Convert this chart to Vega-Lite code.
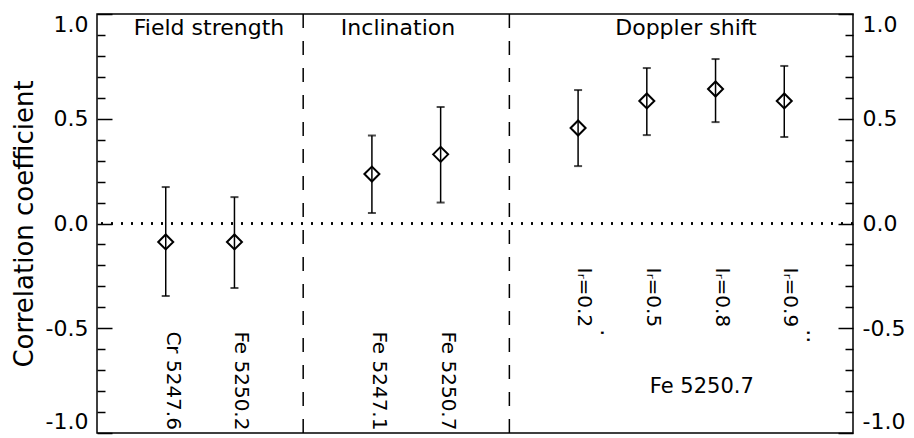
{
  "$schema": "https://vega.github.io/schema/vega-lite/v6.json",
  "width": 756,
  "height": 419,
  "autosize": {"type": "none"},
  "padding": {"left": 97, "top": 14, "right": 61, "bottom": 5},
  "background": "white",
  "config": {
    "view": {"stroke": "black", "strokeWidth": 1.5},
    "font": "DejaVu Sans",
    "text": {"font": "DejaVu Sans", "color": "black"}
  },
  "datasets": {
    "points": [
      {"group": "Field strength", "label": "Cr 5247.6", "x": 1, "r": -0.088, "lo": -0.346, "hi": 0.174, "note": ""},
      {"group": "Field strength", "label": "Fe 5250.2", "x": 2, "r": -0.088, "lo": -0.308, "hi": 0.126, "note": ""},
      {"group": "Inclination", "label": "Fe 5247.1", "x": 4, "r": 0.236, "lo": 0.05, "hi": 0.42, "note": ""},
      {"group": "Inclination", "label": "Fe 5250.7", "x": 5, "r": 0.33, "lo": 0.1, "hi": 0.556, "note": ""},
      {"group": "Doppler shift", "label": "Iᵣ=0.2", "x": 7, "r": 0.456, "lo": 0.274, "hi": 0.637, "note": "."},
      {"group": "Doppler shift", "label": "Iᵣ=0.5", "x": 8, "r": 0.585, "lo": 0.422, "hi": 0.742, "note": ""},
      {"group": "Doppler shift", "label": "Iᵣ=0.8", "x": 9, "r": 0.642, "lo": 0.484, "hi": 0.785, "note": ""},
      {"group": "Doppler shift", "label": "Iᵣ=0.9", "x": 10, "r": 0.585, "lo": 0.413, "hi": 0.752, "note": ".."}
    ],
    "separators": [{"x": 3}, {"x": 6}],
    "sections": [
      {"section": "Field strength", "x": 1.63},
      {"section": "Inclination", "x": 4.38},
      {"section": "Doppler shift", "x": 8.57}
    ],
    "annotations": [{"text": "Fe 5250.7", "x": 8.8, "y": -0.78}]
  },
  "resolve": {"axis": {"y": "independent", "x": "independent"}},
  "layer": [
    {
      "data": {"name": "points"},
      "mark": {"type": "rule", "strokeDash": [2, 8], "strokeWidth": 1.5, "color": "black"},
      "encoding": {
        "y": {
          "datum": 0, "type": "quantitative",
          "scale": {"domain": [-1, 1], "nice": false, "zero": false},
          "axis": {
            "orient": "left", "values": [-1, -0.5, 0, 0.5, 1],
            "labelExpr": "(datum.value < 0 ? '-' : '') + format(abs(datum.value), '.1f')",
            "tickSize": -15, "tickWidth": 1.5, "tickColor": "black",
            "labelPadding": 24, "labelFlush": true, "labelFontSize": 22, "labelColor": "black", "labelFont": "DejaVu Sans",
            "domain": false, "grid": false,
            "title": "Correlation coefficient", "titleFontSize": 26, "titleFontWeight": "normal",
            "titleColor": "black", "titleFont": "DejaVu Sans", "titlePadding": 8
          }
        }
      }
    },
    {
      "data": {"name": "separators"},
      "mark": {"type": "rule", "strokeDash": [14, 13], "strokeWidth": 1.5, "color": "black"},
      "encoding": {
        "x": {"field": "x", "type": "quantitative", "scale": {"domain": [0, 11], "nice": false, "zero": false}, "axis": null}
      }
    },
    {
      "data": {"name": "points"},
      "mark": {"type": "rule", "strokeWidth": 1.5, "color": "black"},
      "encoding": {
        "x": {"field": "x", "type": "quantitative", "scale": {"domain": [0, 11], "nice": false, "zero": false}, "axis": null},
        "y": {
          "field": "lo", "type": "quantitative",
          "scale": {"domain": [-1, 1], "nice": false, "zero": false},
          "axis": {
            "orient": "left", "values": [-0.9, -0.8, -0.7, -0.6, -0.4, -0.3, -0.2, -0.1, 0.1, 0.2, 0.3, 0.4, 0.6, 0.7, 0.8, 0.9],
            "tickSize": -8, "tickWidth": 1.5, "tickColor": "black", "labels": false,
            "domain": false, "grid": false, "title": null
          }
        },
        "y2": {"field": "hi"}
      }
    },
    {
      "data": {"name": "points"},
      "mark": {"type": "tick", "orient": "horizontal", "size": 8, "thickness": 2, "color": "black"},
      "encoding": {
        "x": {"field": "x", "type": "quantitative", "scale": {"domain": [0, 11], "nice": false, "zero": false}, "axis": null},
        "y": {
          "field": "lo", "type": "quantitative",
          "scale": {"domain": [-1, 1], "nice": false, "zero": false},
          "axis": {
            "orient": "right", "values": [-1, -0.5, 0, 0.5, 1],
            "labelExpr": "(datum.value < 0 ? '-' : '') + format(abs(datum.value), '.1f')",
            "tickSize": -15, "tickWidth": 1.5, "tickColor": "black",
            "labelPadding": 24, "labelFlush": true, "labelFontSize": 22, "labelColor": "black", "labelFont": "DejaVu Sans",
            "domain": false, "grid": false, "title": null
          }
        }
      }
    },
    {
      "data": {"name": "points"},
      "mark": {"type": "tick", "orient": "horizontal", "size": 8, "thickness": 2, "color": "black"},
      "encoding": {
        "x": {"field": "x", "type": "quantitative", "scale": {"domain": [0, 11], "nice": false, "zero": false}, "axis": null},
        "y": {
          "field": "hi", "type": "quantitative",
          "scale": {"domain": [-1, 1], "nice": false, "zero": false},
          "axis": {
            "orient": "right", "values": [-0.9, -0.8, -0.7, -0.6, -0.4, -0.3, -0.2, -0.1, 0.1, 0.2, 0.3, 0.4, 0.6, 0.7, 0.8, 0.9],
            "tickSize": -8, "tickWidth": 1.5, "tickColor": "black", "labels": false,
            "domain": false, "grid": false, "title": null
          }
        }
      }
    },
    {
      "data": {"name": "points"},
      "mark": {"type": "point", "shape": "diamond", "filled": false, "size": 225, "strokeWidth": 2, "color": "black", "opacity": 1},
      "encoding": {
        "x": {"field": "x", "type": "quantitative", "scale": {"domain": [0, 11], "nice": false, "zero": false}, "axis": null},
        "y": {"field": "r", "type": "quantitative", "scale": {"domain": [-1, 1], "nice": false, "zero": false}, "axis": null}
      }
    },
    {
      "data": {"name": "points"},
      "transform": [{"filter": "datum.group !== 'Doppler shift'"}],
      "mark": {"type": "text", "angle": 90, "align": "left", "baseline": "alphabetic", "fontSize": 20, "dy": -1},
      "encoding": {
        "x": {"field": "x", "type": "quantitative", "scale": {"domain": [0, 11], "nice": false, "zero": false}, "axis": null},
        "y": {"datum": -0.515, "type": "quantitative", "scale": {"domain": [-1, 1], "nice": false, "zero": false}, "axis": null},
        "text": {"field": "label"}
      }
    },
    {
      "data": {"name": "points"},
      "transform": [{"filter": "datum.group === 'Doppler shift'"}],
      "mark": {"type": "text", "angle": 90, "align": "left", "baseline": "alphabetic", "fontSize": 20, "dy": 0},
      "encoding": {
        "x": {"field": "x", "type": "quantitative", "scale": {"domain": [0, 11], "nice": false, "zero": false}, "axis": null},
        "y": {"datum": -0.21, "type": "quantitative", "scale": {"domain": [-1, 1], "nice": false, "zero": false}, "axis": null},
        "text": {"field": "label"}
      }
    },
    {
      "data": {"name": "points"},
      "transform": [{"filter": "datum.note !== ''"}],
      "mark": {"type": "text", "angle": 90, "align": "left", "baseline": "alphabetic", "fontSize": 22, "dy": -23},
      "encoding": {
        "x": {"field": "x", "type": "quantitative", "scale": {"domain": [0, 11], "nice": false, "zero": false}, "axis": null},
        "y": {"datum": -0.505, "type": "quantitative", "scale": {"domain": [-1, 1], "nice": false, "zero": false}, "axis": null},
        "text": {"field": "note"}
      }
    },
    {
      "data": {"name": "sections"},
      "mark": {"type": "text", "align": "center", "baseline": "middle", "fontSize": 22},
      "encoding": {
        "x": {"field": "x", "type": "quantitative", "scale": {"domain": [0, 11], "nice": false, "zero": false}, "axis": null},
        "y": {"datum": 0.933, "type": "quantitative", "scale": {"domain": [-1, 1], "nice": false, "zero": false}, "axis": null},
        "text": {"field": "section"}
      }
    },
    {
      "data": {"name": "annotations"},
      "mark": {"type": "text", "align": "center", "baseline": "middle", "fontSize": 21},
      "encoding": {
        "x": {"field": "x", "type": "quantitative", "scale": {"domain": [0, 11], "nice": false, "zero": false}, "axis": null},
        "y": {"field": "y", "type": "quantitative", "scale": {"domain": [-1, 1], "nice": false, "zero": false}, "axis": null},
        "text": {"field": "text"}
      }
    }
  ]
}
